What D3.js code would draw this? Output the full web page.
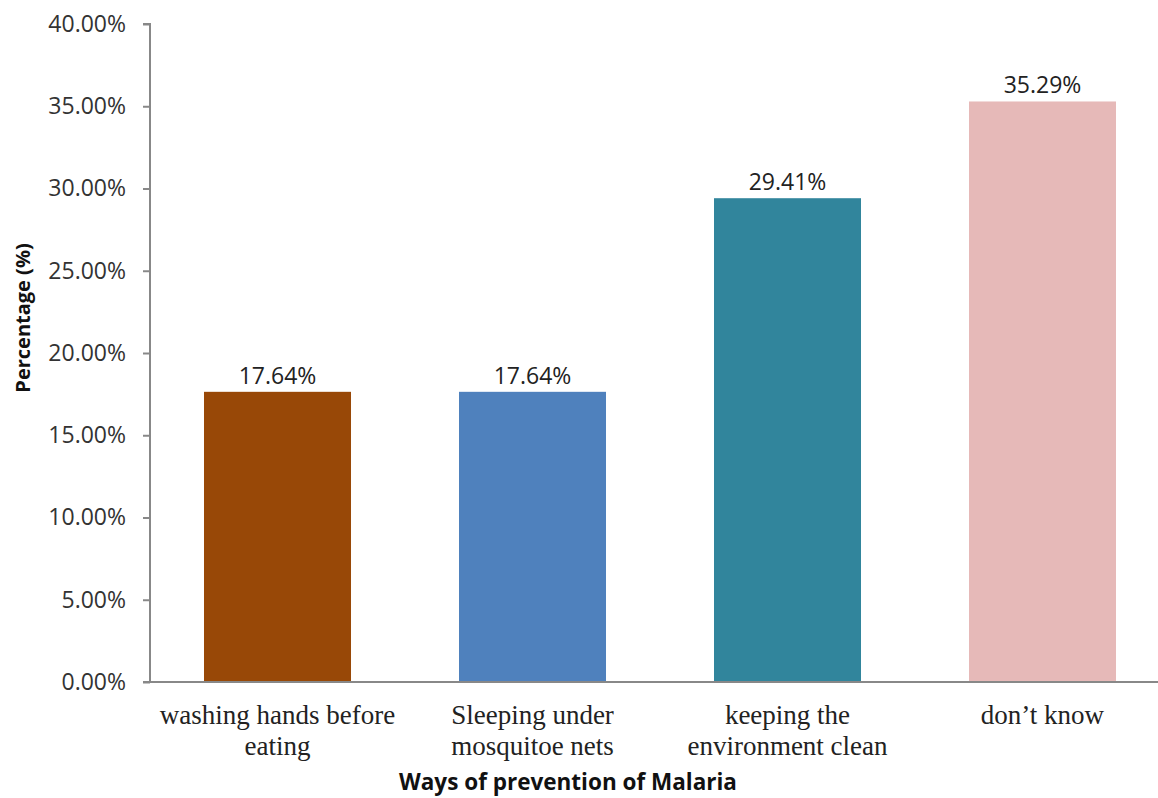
<head>
  <script src="https://cdn.jsdelivr.net/npm/d3@7/dist/d3.min.js"></script>
  <style>body { margin: 0; background: #fff }</style>
</head>

<body>
  <div id="chart"></div>

  <script>
    const categories = [
      ['washing hands before', 'eating'],
      ['Sleeping under', 'mosquitoe nets'],
      ['keeping the', 'environment clean'],
      ['don\u2019t know']
    ];
    const values = [17.64, 17.64, 29.41, 35.29];
    const colors = ['#984807', '#4f81bd', '#31859c', '#e6b9b8'];
    const yTicks = [0, 5, 10, 15, 20, 25, 30, 35, 40];

    const width = 1158;
    const height = 798;
    const X0 = 150, X1 = 1170, Y0 = 24, Y1 = 682;

    const svg = d3.select('#chart').append('svg')
      .attr('width', width)
      .attr('height', height);

    const x = d3.scaleBand()
      .domain(d3.range(values.length))
      .range([X0, X1])
      .paddingInner(0.4235)
      .paddingOuter(0.21175);

    const y = d3.scaleLinear()
      .domain([0, 40])
      .range([Y1, Y0]);

    // bars
    svg.selectAll('rect.bar')
      .data(values)
      .enter().append('rect')
      .attr('class', 'bar')
      .attr('x', (d, i) => x(i))
      .attr('y', d => y(d))
      .attr('width', x.bandwidth())
      .attr('height', d => y(0) - y(d))
      .attr('fill', (d, i) => colors[i]);

    // value labels
    svg.selectAll('text.val')
      .data(values)
      .enter().append('text')
      .attr('class', 'val')
      .attr('x', (d, i) => x(i) + x.bandwidth() / 2)
      .attr('y', d => y(d) - 8)
      .attr('text-anchor', 'middle')
      .style('font-family', '"Open Sans", "DejaVu Sans", sans-serif')
      .style('font-size', '23px')
      .attr('fill', '#222')
      .text(d => d.toFixed(2) + '%');

    // y axis
    const yAxis = svg.append('g')
      .attr('transform', `translate(${X0},0)`)
      .call(d3.axisLeft(y).tickValues(yTicks).tickSize(7).tickPadding(17)
        .tickFormat(d => d.toFixed(2) + '%'));
    yAxis.select('.domain').attr('stroke', '#888').attr('stroke-width', 2)
      .attr('d', `M-7,${Y0}H0V${Y1}`);
    yAxis.selectAll('.tick line').attr('stroke', '#888').attr('stroke-width', 2);
    yAxis.selectAll('.tick text')
      .style('font-family', '"Open Sans", "DejaVu Sans", sans-serif')
      .style('font-size', '23px')
      .attr('fill', '#333');

    // x baseline
    svg.append('line')
      .attr('x1', X0 - 7).attr('x2', width)
      .attr('y1', y(0)).attr('y2', y(0))
      .attr('stroke', '#888').attr('stroke-width', 2);

    // category labels
    const cat = svg.selectAll('text.cat')
      .data(categories)
      .enter().append('text')
      .attr('class', 'cat')
      .attr('x', (d, i) => x(i) + x.bandwidth() / 2)
      .attr('y', 724)
      .attr('text-anchor', 'middle')
      .style('font-family', '"Liberation Serif", "Times New Roman", serif')
      .style('font-size', '27px')
      .attr('fill', '#222');
    cat.selectAll('tspan')
      .data(d => d)
      .enter().append('tspan')
      .attr('x', function () { return this.parentNode.getAttribute('x'); })
      .attr('dy', (d, i) => i === 0 ? 0 : 31)
      .text(d => d);

    // axis titles
    svg.append('text')
      .attr('x', 568)
      .attr('y', 790)
      .attr('text-anchor', 'middle')
      .style('font-family', '"Open Sans", "DejaVu Sans", sans-serif')
      .style('font-size', '22.5px')
      .style('font-weight', 'bold')
      .attr('fill', '#111')
      .text('Ways of prevention of Malaria');

    svg.append('text')
      .attr('transform', 'translate(30,318) rotate(-90)')
      .attr('text-anchor', 'middle')
      .style('font-family', '"Open Sans", "DejaVu Sans", sans-serif')
      .style('font-size', '20px')
      .style('font-weight', 'bold')
      .attr('fill', '#111')
      .text('Percentage (%)');
  </script>
</body>
